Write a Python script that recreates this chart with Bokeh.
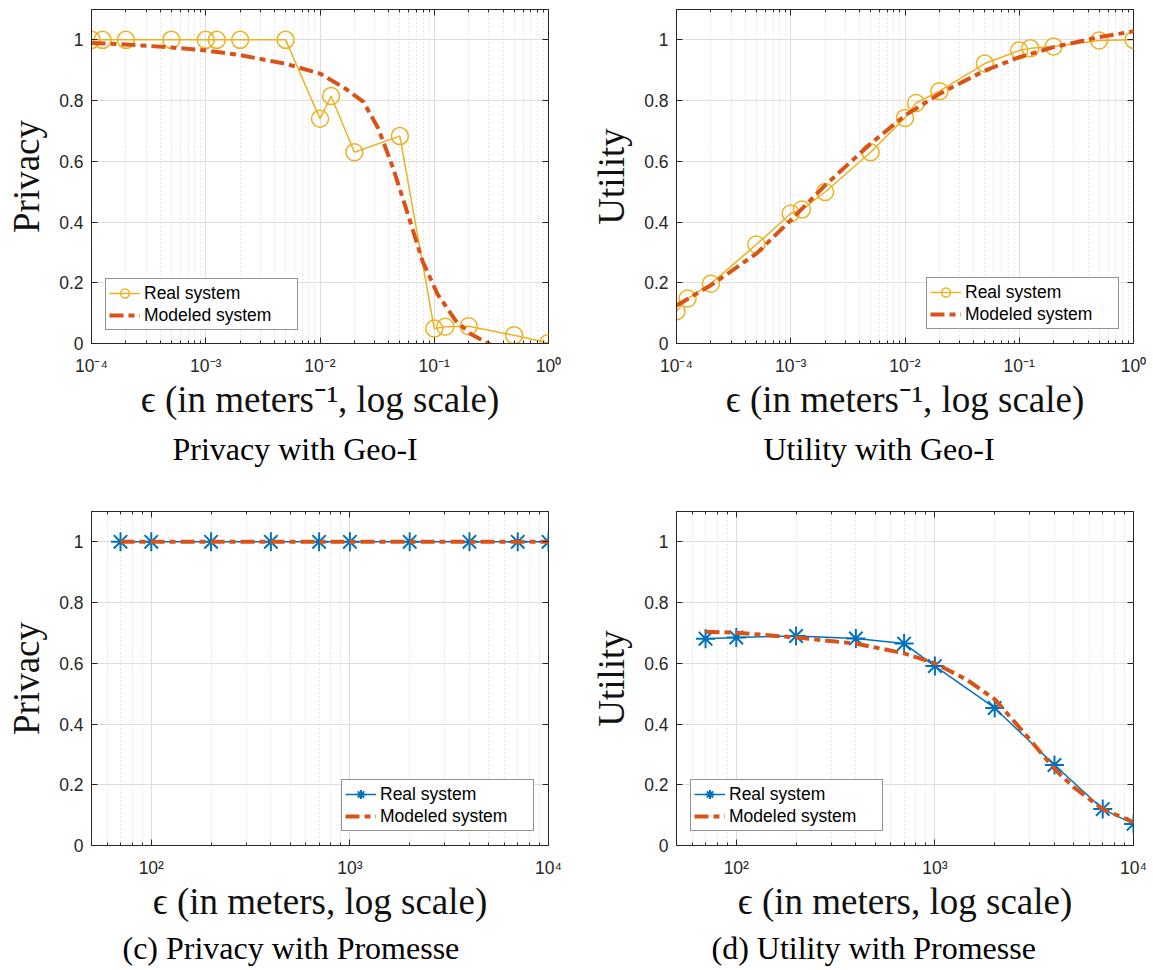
from bokeh.plotting import figure
from bokeh.models import FixedTicker, LogAxis, LinearAxis, Legend, LegendItem, Title, Range1d
from bokeh.layouts import column, row
from bokeh.embed import file_html
from bokeh.resources import INLINE

# ---------------- data ----------------
geo_eps = [1e-4, 1.25e-4, 2e-4, 5e-4, 1e-3, 1.25e-3, 2e-3, 5e-3, 1e-2, 1.25e-2,
           2e-2, 5e-2, 1e-1, 1.25e-1, 2e-1, 5e-1, 1.0]
geo_privacy_real = [1.0, 1.0, 1.0, 1.0, 1.0, 1.0, 1.0, 1.0, 0.74, 0.815,
                    0.63, 0.683, 0.049, 0.055, 0.057, 0.027, 0.002]
geo_privacy_model_eps = [1e-4, 2e-4, 5e-4, 1e-3, 2e-3, 5e-3, 1e-2, 1.66e-2, 2.4e-2,
                         3.24e-2, 4.37e-2, 5.9e-2, 7.9e-2, 0.107, 0.155, 0.209, 0.316]
geo_privacy_model = [0.99, 0.985, 0.975, 0.965, 0.95, 0.921, 0.889, 0.84, 0.796,
                     0.708, 0.577, 0.424, 0.271, 0.162, 0.074, 0.031, -0.005]

geo_utility_real = [0.106, 0.148, 0.197, 0.326, 0.428, 0.441, 0.499, 0.63, 0.743, 0.792,
                    0.831, 0.922, 0.965, 0.972, 0.978, 0.998, 1.0]
geo_utility_model_eps = [1e-4, 2e-4, 5e-4, 1e-3, 2e-3, 5e-3, 1e-2, 2e-2, 5e-2, 1e-1,
                         2e-1, 5e-1, 1.0]
geo_utility_model = [0.125, 0.192, 0.296, 0.406, 0.521, 0.658, 0.751, 0.822, 0.899,
                     0.943, 0.976, 1.009, 1.028]

prom_eps = [70, 100, 200, 400, 700, 1000, 2000, 4000, 7000, 10000]
prom_privacy_real = [1.0, 1.0, 1.0, 1.0, 1.0, 1.0, 1.0, 1.0, 1.0, 1.0]
prom_privacy_model_eps = [70, 100, 1000, 10000]
prom_privacy_model = [1.0, 1.0, 1.0, 1.0]

prom_utility_real = [0.681, 0.685, 0.69, 0.682, 0.665, 0.591, 0.453, 0.265, 0.12, 0.071]
prom_utility_model_eps = [70, 100, 200, 400, 700, 1000, 1430, 2000, 3000, 4000, 5000, 7000, 10000]
prom_utility_model = [0.704, 0.701, 0.685, 0.665, 0.633, 0.6, 0.548, 0.482, 0.35, 0.252,
                      0.192, 0.12, 0.077]

geo_xticks = [1e-4, 1e-3, 1e-2, 1e-1, 1.0]
geo_xtick_labels = ["10\u207b\u2074", "10\u207b\u00b3", "10\u207b\u00b2", "10\u207b\u00b9", "10\u2070"]
prom_xticks = [100, 1000, 10000]
prom_xtick_labels = ["10\u00b2", "10\u00b3", "10\u2074"]
y_ticks = [0, 0.2, 0.4, 0.6, 0.8, 1]
y_tick_labels = ["0", "0.2", "0.4", "0.6", "0.8", "1"]

geo_xlabel = "\u03f5 (in meters\u207b\u00b9, log scale)"
prom_xlabel = "\u03f5 (in meters, log scale)"
captions = ["Privacy with Geo-I", "Utility with Geo-I",
            "(c) Privacy with Promesse", "(d) Utility with Promesse"]
legend_labels = ["Real system", "Modeled system"]

YELLOW = "#EDB120"
RED = "#D95319"
BLUE = "#0072BD"
AX = "#262626"


def minor_ticks(lo_exp, hi_exp, start=2):
    out = []
    for k in range(lo_exp, hi_exp):
        for m in range(start, 10):
            out.append(m * 10.0 ** k)
    return out


def make_panel(width, height, bl, br, bt, bb, xr, xticks, xminor, xlabels,
               ylabel, xlabel, caption, cap_off, cap_standoff, rx, ry, color, marker, msize,
               mx, my, legend_xy):
    p = figure(width=width, height=height, x_axis_type="log",
               x_range=Range1d(*xr), y_range=Range1d(0, 1.1),
               output_backend="svg", toolbar_location=None,
               min_border_left=bl, min_border_right=br,
               min_border_top=bt, min_border_bottom=bb)
    p.background_fill_color = "white"
    p.border_fill_color = "white"
    p.outline_line_color = AX
    p.outline_line_width = 1
    p.outline_line_alpha = 1

    xt = FixedTicker(ticks=xticks, minor_ticks=xminor)
    yt = FixedTicker(ticks=y_ticks)
    xa = p.below[0]
    ya = p.left[0]
    xa.ticker = xt
    ya.ticker = yt
    xa.major_label_overrides = dict(zip(xticks, xlabels))
    ya.major_label_overrides = dict(zip(y_ticks, y_tick_labels))
    for a in (xa, ya):
        a.major_label_text_font = "Liberation Sans"
        a.major_label_text_font_size = "17.5px"
        a.major_label_text_color = AX
        a.axis_line_color = AX
        a.major_tick_line_color = AX
        a.minor_tick_line_color = AX
        a.major_tick_in = 6
        a.major_tick_out = 0
        a.axis_label_text_font = "Liberation Serif"
        a.axis_label_text_font_size = "37px"
        a.axis_label_text_font_style = "normal"
        a.axis_label_text_color = "#111111"
    xa.minor_tick_in = 3
    xa.minor_tick_out = 0
    ya.minor_tick_in = 0
    ya.minor_tick_out = 0
    xa.major_label_standoff = 12
    ya.major_label_standoff = 8
    xa.axis_label = xlabel
    ya.axis_label = ylabel
    xa.axis_label_standoff = 0
    ya.axis_label_standoff = 9

    p.xgrid.ticker = xt
    p.ygrid.ticker = yt
    p.xgrid.grid_line_color = "#dedede"
    p.xgrid.minor_grid_line_color = "#cfcfcf"
    p.xgrid.minor_grid_line_dash = "1 3"
    p.ygrid.grid_line_color = "#dedede"

    top = LogAxis(ticker=xt, major_label_text_font_size="0px", major_label_standoff=0,
                  major_tick_in=6, major_tick_out=0, minor_tick_in=3, minor_tick_out=0,
                  axis_line_color=None, major_tick_line_color=AX, minor_tick_line_color=AX)
    top.major_label_overrides = dict(zip(xticks, ["" for _ in xticks]))
    right = LinearAxis(ticker=yt, major_label_text_font_size="0px", major_label_standoff=0,
                       major_tick_in=6, major_tick_out=0, minor_tick_in=0, minor_tick_out=0,
                       axis_line_color=None, major_tick_line_color=AX)
    right.major_label_overrides = dict(zip(y_ticks, ["" for _ in y_ticks]))
    p.add_layout(top, "above")
    p.add_layout(right, "right")

    rl = p.line(rx, ry, line_color=color, line_width=1.5)
    if marker == "circle":
        rs = p.scatter(rx, ry, marker="circle", size=msize, fill_color=None,
                       line_color=color, line_width=1.5)
    else:
        rs = p.scatter(rx, ry, marker="asterisk", size=msize,
                       line_color=color, line_width=2)
    ml = p.line(mx, my, line_color=RED, line_width=4, line_dash="14 5 6 5")

    legend = Legend(items=[LegendItem(label=legend_labels[0], renderers=[rl, rs]),
                           LegendItem(label=legend_labels[1], renderers=[ml])],
                    location=legend_xy)
    legend.label_text_font = "Liberation Sans"
    legend.label_text_font_size = "17.5px"
    legend.label_text_color = "#000000"
    legend.border_line_color = AX
    legend.border_line_width = 1
    legend.background_fill_color = "white"
    legend.background_fill_alpha = 1
    legend.padding = 3
    legend.spacing = 0
    legend.margin = 0
    legend.glyph_width = 31
    legend.glyph_height = 22
    legend.label_height = 22
    legend.label_width = 150
    legend.label_standoff = 4
    p.add_layout(legend)

    cap = Title(text=caption, align="left", offset=cap_off, standoff=cap_standoff,
                text_font="Liberation Serif", text_font_size="32px",
                text_font_style="normal", text_color="#000000")
    p.add_layout(cap, "below")
    return p


geo_minor = minor_ticks(-4, 0)
prom_minor = [50, 60, 70, 80, 90] + minor_ticks(2, 4)

p1 = make_panel(584, 488, 91, 36, 9, 145, (1e-4, 1.0), geo_xticks, geo_minor, geo_xtick_labels,
                "Privacy", geo_xlabel, captions[0], 81, 12,
                geo_eps, geo_privacy_real, YELLOW, "circle", 17,
                geo_privacy_model_eps, geo_privacy_model, (14, 13))
p2 = make_panel(568, 488, 92, 19, 9, 145, (1e-4, 1.0), geo_xticks, geo_minor, geo_xtick_labels,
                "Utility", geo_xlabel, captions[1], 87, 12,
                geo_eps, geo_utility_real, YELLOW, "circle", 17,
                geo_utility_model_eps, geo_utility_model, (250, 14))
p3 = make_panel(584, 481, 91, 36, 23, 124, (50, 10000), prom_xticks, prom_minor, prom_xtick_labels,
                "Privacy", prom_xlabel, captions[2], 31, 6,
                prom_eps, prom_privacy_real, BLUE, "asterisk", 19,
                prom_privacy_model_eps, prom_privacy_model, (250, 14))
p4 = make_panel(568, 481, 92, 19, 23, 124, (50, 10000), prom_xticks, prom_minor, prom_xtick_labels,
                "Utility", prom_xlabel, captions[3], 35, 6,
                prom_eps, prom_utility_real, BLUE, "asterisk", 19,
                prom_utility_model_eps, prom_utility_model, (14, 14))

layout = column(row(p1, p2), row(p3, p4))
open("out.html", "w").write(file_html(layout, INLINE))
